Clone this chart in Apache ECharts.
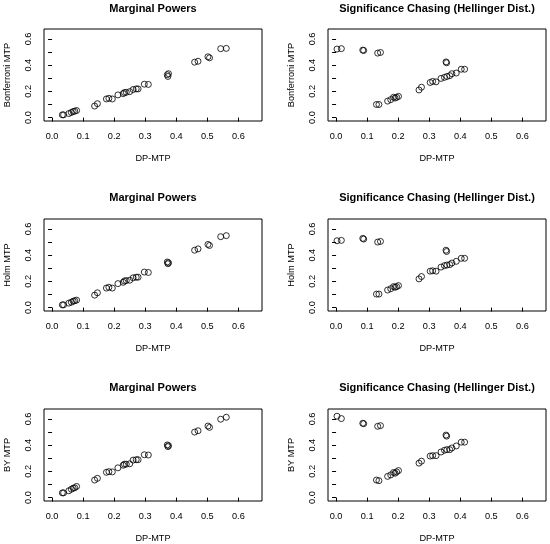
<!DOCTYPE html>
<html>
<head>
    <meta charset="utf-8">
    <title>Marginal Powers / Significance Chasing</title>
    <script src="https://cdn.jsdelivr.net/npm/echarts@6/dist/echarts.min.js"></script>
    <style>
        html, body { margin: 0; padding: 0; background: #fff; }
    </style>
</head>
<body>
    <div id="main" style="width: 550px;height:544px;"></div>
    <script type="text/javascript">
        // power of the DP-MTP (x axis), shared by all three rows
        var dpMarginal = [0.033, 0.037, 0.054, 0.062, 0.068, 0.073, 0.079, 0.137, 0.146, 0.175, 0.183, 0.194,
            0.212, 0.229, 0.233, 0.239, 0.250, 0.261, 0.271, 0.277, 0.297, 0.310, 0.371, 0.373, 0.375,
            0.459, 0.470, 0.502, 0.507, 0.543, 0.561];
        var bonfMarginal = [0.021, 0.021, 0.031, 0.039, 0.046, 0.049, 0.054, 0.088, 0.106, 0.142, 0.147, 0.142,
            0.173, 0.183, 0.191, 0.193, 0.198, 0.214, 0.219, 0.219, 0.255, 0.253, 0.327, 0.314, 0.335,
            0.423, 0.430, 0.464, 0.456, 0.526, 0.528];
        var holmMarginal = [0.021, 0.021, 0.034, 0.041, 0.049, 0.052, 0.057, 0.095, 0.113, 0.149, 0.155, 0.149,
            0.183, 0.193, 0.203, 0.206, 0.209, 0.227, 0.232, 0.232, 0.271, 0.268, 0.348, 0.335, 0.342,
            0.438, 0.448, 0.482, 0.474, 0.541, 0.549];
        var byMarginal = [0.036, 0.036, 0.052, 0.064, 0.072, 0.075, 0.085, 0.134, 0.147, 0.193, 0.198, 0.196,
            0.227, 0.247, 0.255, 0.255, 0.258, 0.286, 0.289, 0.289, 0.327, 0.325, 0.402, 0.389, 0.396,
            0.500, 0.510, 0.546, 0.536, 0.598, 0.613];

        // Hellinger distance of the DP-MTP (x axis) and of the other procedures
        var dpChasing = [0.003, 0.017, 0.086, 0.089, 0.134, 0.143, 0.354, 0.356, 0.130, 0.138, 0.166, 0.176,
            0.185, 0.190, 0.195, 0.201, 0.267, 0.275, 0.303, 0.311, 0.322, 0.338, 0.349, 0.357, 0.366,
            0.373, 0.387, 0.403, 0.414];
        var bonfChasing = [0.523, 0.526, 0.515, 0.512, 0.492, 0.497, 0.425, 0.418, 0.100, 0.100, 0.126, 0.137,
            0.155, 0.149, 0.155, 0.162, 0.211, 0.232, 0.268, 0.276, 0.273, 0.299, 0.307, 0.314, 0.320,
            0.335, 0.340, 0.369, 0.369];
        var holmChasing = [0.510, 0.513, 0.528, 0.523, 0.500, 0.505, 0.438, 0.428, 0.103, 0.103, 0.134, 0.144,
            0.160, 0.155, 0.160, 0.168, 0.219, 0.237, 0.278, 0.281, 0.278, 0.309, 0.320, 0.325, 0.328,
            0.340, 0.353, 0.376, 0.376];
        var byChasing = [0.621, 0.603, 0.567, 0.564, 0.544, 0.549, 0.477, 0.469, 0.134, 0.129, 0.162, 0.173,
            0.191, 0.186, 0.196, 0.206, 0.263, 0.278, 0.317, 0.320, 0.320, 0.348, 0.361, 0.366, 0.366,
            0.379, 0.394, 0.423, 0.423];

        var xTicks = [0, 0.1, 0.2, 0.3, 0.4, 0.5, 0.6];
        var yTicks = [0, 0.1, 0.2, 0.3, 0.4, 0.5, 0.6];
        var yTickLabels = [0, 0.2, 0.4, 0.6];

        var titleMarginal = 'Marginal Powers';
        var titleChasing = 'Significance Chasing (Hellinger Dist.)';
        var xName = 'DP-MTP';
        var yNames = ['Bonferroni MTP', 'Holm MTP', 'BY MTP'];

        var panels = [
            { title: titleMarginal, yName: yNames[0], x: dpMarginal, y: bonfMarginal },
            { title: titleChasing, yName: yNames[0], x: dpChasing, y: bonfChasing },
            { title: titleMarginal, yName: yNames[1], x: dpMarginal, y: holmMarginal },
            { title: titleChasing, yName: yNames[1], x: dpChasing, y: holmChasing },
            { title: titleMarginal, yName: yNames[2], x: dpMarginal, y: byMarginal },
            { title: titleChasing, yName: yNames[2], x: dpChasing, y: byChasing }
        ];

        var font = 'Liberation Sans, Arial, Helvetica, sans-serif';
        var colLeft = [44, 328];
        var rowTop = [29, 219, 409];
        var boxW = 218, boxH = 92;
        var titleTop = [3, 192, 382];

        var myChart = echarts.init(document.getElementById('main'), null, { renderer: 'canvas' });

        var option = {
            backgroundColor: '#fff',
            animation: false,
            textStyle: { fontFamily: font },
            title: [], grid: [], xAxis: [], yAxis: [], series: []
        };

        panels.forEach(function (p, i) {
            var col = i % 2, row = Math.floor(i / 2);
            option.title.push({
                text: p.title,
                left: colLeft[col] + boxW / 2,
                top: titleTop[row],
                textAlign: 'center',
                padding: 0,
                textStyle: { fontFamily: font, fontSize: 11, fontWeight: 'bold', color: '#000' }
            });
            option.grid.push({
                left: colLeft[col], top: rowTop[row], width: boxW, height: boxH,
                show: true, borderColor: '#000', borderWidth: 1, backgroundColor: 'transparent'
            });
            option.xAxis.push({
                type: 'value', gridIndex: i, min: -0.026, max: 0.676,
                name: xName, nameLocation: 'middle', nameGap: 33,
                nameTextStyle: { fontFamily: font, fontSize: 9.2, color: '#000' },
                axisLine: { show: false },
                splitLine: { show: false },
                axisTick: { show: true, inside: false, length: 4, customValues: xTicks,
                    lineStyle: { color: '#000', width: 1 } },
                axisLabel: { customValues: xTicks, margin: 11, fontFamily: font, fontSize: 9.2, color: '#000',
                    formatter: function (v) { return v.toFixed(1); } }
            });
            option.yAxis.push({
                type: 'value', gridIndex: i, min: -0.026, max: 0.676,
                name: p.yName, nameLocation: 'middle', nameGap: 32, nameRotate: 90,
                nameTextStyle: { fontFamily: font, fontSize: 9.2, color: '#000' },
                axisLine: { show: false },
                splitLine: { show: false },
                axisTick: { show: true, inside: false, length: 4, customValues: yTicks,
                    lineStyle: { color: '#000', width: 1 } },
                axisLabel: { customValues: yTickLabels, rotate: 90, margin: 11, fontFamily: font, fontSize: 9.2,
                    color: '#000', formatter: function (v) { return v.toFixed(1); } }
            });
            option.series.push({
                type: 'scatter', xAxisIndex: i, yAxisIndex: i,
                symbol: 'circle', symbolSize: 6,
                itemStyle: { color: 'rgba(0,0,0,0)', borderColor: '#000', borderWidth: 1 },
                data: p.x.map(function (v, k) { return [v, p.y[k]]; })
            });
        });

        myChart.setOption(option);
    </script>
</body>
</html>
